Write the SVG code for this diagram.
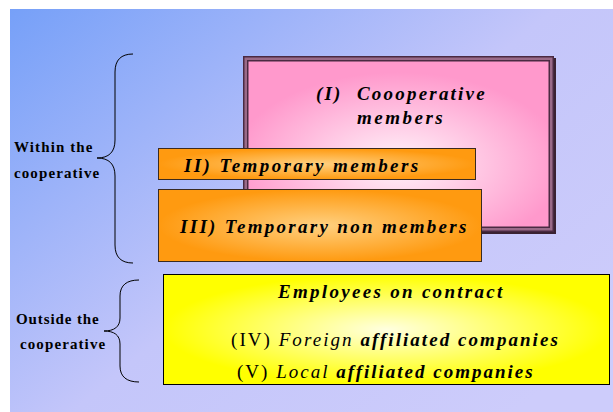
<svg xmlns="http://www.w3.org/2000/svg" width="613" height="412" viewBox="0 0 613 412">
<defs>
<linearGradient id="bg" x1="0" y1="0" x2="1" y2="0.8">
<stop offset="0" stop-color="#76a0f8"/>
<stop offset="0.55" stop-color="#c4c6fa"/>
<stop offset="1" stop-color="#cdccfb"/>
</linearGradient>
<radialGradient id="pink" cx="0.5" cy="0.62" r="0.55">
<stop offset="0" stop-color="#fff4fa"/>
<stop offset="1" stop-color="#ff99cc"/>
</radialGradient>
<radialGradient id="orange" cx="0.5" cy="0.5" r="0.5">
<stop offset="0" stop-color="#ffd080"/>
<stop offset="1" stop-color="#ff9a10"/>
</radialGradient>
<radialGradient id="yellow" cx="0.5" cy="0.5" r="0.5">
<stop offset="0" stop-color="#ffffe0"/>
<stop offset="1" stop-color="#ffff00"/>
</radialGradient>
<style>
.t{font-family:"Liberation Serif","Times New Roman",serif;fill:#000;}
.bi{font-weight:bold;font-style:italic;font-size:19px;}
.lab{font-weight:bold;font-size:15px;letter-spacing:1.1px;}
.brace{fill:none;stroke:#000;stroke-width:1;}
.ob{stroke:#3a2a20;stroke-width:1;}
</style>
</defs>
<rect x="10" y="9" width="603" height="403" fill="url(#bg)"/>

<g id="connectors">
<path class="brace" d="M133,54 C121,54 115,60 115,72 L115,140 C115,152 109,158 97,158 C109,158 115,164 115,176 L115,245 C115,257 121,263 133,263"/>
<path class="brace" d="M139,280 C127,280 120,285 120,296 L120,318 C120,327 114,331 104,331 C114,331 120,335 120,344 L120,366 C120,377 127,382 139,382"/>
</g>

<g id="label-within">
<text class="t lab" x="14" y="152">Within the</text>
<text class="t lab" x="14" y="178">cooperative</text>
</g>
<g id="label-outside">
<text class="t lab" x="16" y="324" style="letter-spacing:0.9px">Outside the</text>
<text class="t lab" x="20" y="349">cooperative</text>
</g>

<g id="node-coop">
<rect x="245" y="58" width="311" height="176" fill="#3a2232"/>
<rect x="243.75" y="56.75" width="309.5" height="174.5" fill="#9a6a88" stroke="#4a2a42" stroke-width="1.5"/>
<rect x="247.75" y="60.75" width="301.5" height="166.5" fill="url(#pink)" stroke="#4a2a42" stroke-width="1.5"/>
<text class="t bi" y="100" style="letter-spacing:2.2px"><tspan x="316">(I)</tspan><tspan x="357">Coooperative</tspan></text>
<text class="t bi" x="357" y="124" style="letter-spacing:2.5px">members</text>
</g>

<g id="node-temp">
<rect class="ob" x="158.5" y="148.5" width="317" height="31" fill="url(#orange)"/>
<text class="t bi" x="184" y="172" style="letter-spacing:2.4px">II) Temporary members</text>
</g>

<g id="node-nonmem">
<rect class="ob" x="158.5" y="189.5" width="323" height="72" fill="url(#orange)"/>
<text class="t bi" x="180" y="233" style="letter-spacing:2.3px">III) Temporary non members</text>
</g>

<g id="node-contract">
<rect x="163.5" y="274.5" width="446" height="110" fill="url(#yellow)" stroke="#000" stroke-width="1"/>
<text class="t bi" x="278" y="298" style="letter-spacing:2.3px">Employees on contract</text>
<text class="t" x="231" y="346" style="font-size:19px;letter-spacing:2.05px"><tspan>(IV) </tspan><tspan font-style="italic">Foreign </tspan><tspan font-weight="bold" font-style="italic">affiliated companies</tspan></text>
<text class="t" x="237" y="378" style="font-size:19px;letter-spacing:2px"><tspan>(V) </tspan><tspan font-style="italic">Local </tspan><tspan font-weight="bold" font-style="italic">affiliated companies</tspan></text>
</g>
</svg>
